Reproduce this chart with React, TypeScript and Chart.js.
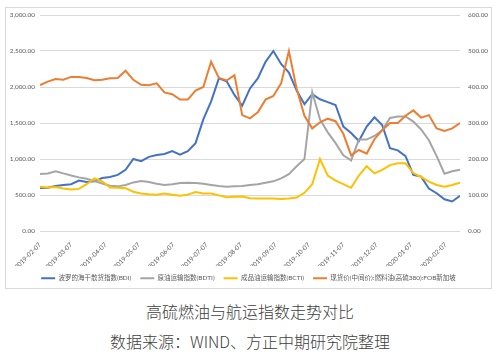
import React, { useEffect, useRef } from "react";
import { Chart, registerables } from "chart.js";

Chart.register(...registerables);

const dates = [
  "2019-02-07", "2019-02-14", "2019-02-21", "2019-02-28", "2019-03-07", "2019-03-14", "2019-03-21", "2019-03-28",
  "2019-04-04", "2019-04-11", "2019-04-18", "2019-04-25", "2019-05-02", "2019-05-09", "2019-05-16", "2019-05-23",
  "2019-05-30", "2019-06-06", "2019-06-13", "2019-06-20", "2019-06-27", "2019-07-04", "2019-07-11", "2019-07-18",
  "2019-07-25", "2019-08-01", "2019-08-08", "2019-08-15", "2019-08-22", "2019-08-29", "2019-09-05", "2019-09-12",
  "2019-09-19", "2019-09-26", "2019-10-03", "2019-10-10", "2019-10-17", "2019-10-24", "2019-10-31", "2019-11-07",
  "2019-11-14", "2019-11-21", "2019-11-28", "2019-12-05", "2019-12-12", "2019-12-19", "2019-12-26", "2020-01-02",
  "2020-01-09", "2020-01-16", "2020-01-23", "2020-01-30", "2020-02-06", "2020-02-13", "2020-02-20",
];

const tickDates = [
  "2019-02-07", "2019-03-07", "2019-04-07", "2019-05-07", "2019-06-07", "2019-07-07", "2019-08-07",
  "2019-09-07", "2019-10-07", "2019-11-07", "2019-12-07", "2020-01-07", "2020-02-07",
];

const bdi = [
  597, 600, 625, 640, 650, 700, 680, 690, 735, 750,
  780, 850, 1000, 970, 1030, 1055, 1070, 1110, 1060, 1110,
  1220, 1550, 1800, 2120, 2080, 1890, 1740, 1980, 2120, 2350,
  2500, 2320, 2200, 1950, 1760, 1900, 1830, 1790, 1750, 1450,
  1360, 1250, 1450, 1580, 1470, 1150, 1120, 1040, 780, 755,
  590, 525, 440, 410, 490,
];

const bdti = [
  790, 800, 830, 800, 770, 745, 725, 695, 660, 630,
  620, 640, 675, 695, 680, 655, 640, 650, 665, 670,
  665, 655, 640, 625, 615, 620, 625, 640, 650, 670,
  690, 730, 790, 900, 1000, 1930, 1550, 1370, 1220, 1050,
  980, 1270, 1270, 1320, 1400, 1570, 1590, 1590, 1520, 1410,
  1260, 1040, 795, 830, 850,
];

const bcti = [
  615, 605, 610, 590, 575, 585, 650, 730, 690, 605,
  600, 595, 545, 520, 510, 505, 520, 505, 490, 505,
  540, 520, 520, 495, 470, 475, 480, 455, 450, 450,
  450, 445, 450, 465, 530, 650, 1000, 770, 700, 650,
  600, 770, 900, 800, 850, 915, 940, 940, 805, 750,
  685, 640, 615, 640, 670,
];

const fuelOil = [
  405, 415, 422, 420, 428, 428, 425, 419, 420, 424,
  425, 445, 420, 406, 405, 410, 385, 380, 365, 365,
  390, 400, 470, 425, 418, 433, 322, 313, 330, 365,
  375, 410, 500, 395, 320, 285, 302, 312, 305, 270,
  210, 225, 215, 255, 280, 300, 300, 320, 335, 315,
  322, 285, 278, 285, 300,
];

const seriesNames = [
  "波罗的海干散货指数(BDI)",
  "原油运输指数(BDTI)",
  "成品油运输指数(BCTI)",
  "现货价(中间价):燃料油(高硫380):FOB新加坡",
];

const seriesColors = ["#4472C4", "#A5A5A5", "#FFC000", "#ED7D31"];

const titleText = "高硫燃油与航运指数走势对比";
const sourceText = "数据来源：WIND、方正中期研究院整理";

const dayOf = (s: string) => {
  const [y, m, d] = s.split("-").map(Number);
  return Math.round((Date.UTC(y, m - 1, d) - Date.UTC(2019, 1, 7)) / 86400000);
};

const fmt2 = (v: number) =>
  Number(v).toLocaleString("en-US", { minimumFractionDigits: 2, maximumFractionDigits: 2 });

const tickFont = { size: 6.4, family: 'Lato, "Noto Sans CJK SC", sans-serif' };
const legendFont = { size: 6.5, family: 'Lato, "Noto Sans CJK SC", sans-serif' };
const tickColor = "#595959";

export default function App() {
  const ref = useRef<HTMLCanvasElement | null>(null);

  useEffect(() => {
    if (!ref.current) return;
    const labelByDay: Record<number, string> = {};
    tickDates.forEach((d) => (labelByDay[dayOf(d)] = d));
    const mk = (vals: number[], idx: number, axis: string, order: number) => ({
      label: seriesNames[idx],
      data: dates.map((d, i) => ({ x: dayOf(d), y: vals[i] })),
      borderColor: seriesColors[idx],
      backgroundColor: seriesColors[idx],
      borderWidth: 2,
      pointRadius: 0,
      tension: 0,
      yAxisID: axis,
      order,
    });
    const chart = new Chart(ref.current, {
      type: "line",
      data: {
        datasets: [
          mk(bdi, 0, "y", 4),
          mk(bdti, 1, "y", 3),
          mk(bcti, 2, "y", 2),
          mk(fuelOil, 3, "yR", 1),
        ],
      },
      options: {
        animation: false,
        responsive: false,
        layout: { padding: { top: 7, bottom: 6.5, left: 0, right: 0 } },
        plugins: {
          legend: {
            position: "bottom",
            labels: {
              usePointStyle: true,
              pointStyle: "line",
              pointStyleWidth: 14,
              boxHeight: 7,
              padding: 9,
              color: tickColor,
              font: legendFont,
              sort: (a: any, b: any) => a.datasetIndex - b.datasetIndex,
            },
          },
          tooltip: { enabled: false },
        },
        scales: {
          x: {
            type: "linear",
            min: 0,
            max: dayOf(dates[dates.length - 1]),
            grid: { display: false },
            border: { display: false },
            afterBuildTicks: (s: any) => {
              s.ticks = tickDates.map((d) => ({ value: dayOf(d) }));
            },
            afterFit: (s: any) => {
              s.height = 35;
            },
            ticks: {
              autoSkip: false,
              minRotation: 45,
              maxRotation: 45,
              padding: 2,
              color: tickColor,
              font: tickFont,
              callback: (v: any) => labelByDay[v] ?? "",
            },
          },
          y: {
            type: "linear",
            axis: "y",
            position: "left",
            min: 0,
            max: 3000,
            grid: { color: "#D9D9D9", drawTicks: true, tickLength: 5, tickColor: "rgba(0,0,0,0)" },
            border: { display: false },
            ticks: { stepSize: 500, padding: 0, color: tickColor, font: tickFont, callback: (v: any) => fmt2(v) },
            afterFit: (s: any) => {
              s.width = 34;
            },
          },
          yR: {
            type: "linear",
            axis: "y",
            position: "right",
            min: 0,
            max: 600,
            grid: { drawOnChartArea: false, drawTicks: true, tickLength: 8, tickColor: "rgba(0,0,0,0)" },
            border: { display: false },
            ticks: { stepSize: 100, padding: 0, color: tickColor, font: tickFont, callback: (v: any) => fmt2(v) },
            afterFit: (s: any) => {
              s.width = 31;
            },
          },
        },
      } as any,
    });
    return () => chart.destroy();
  }, []);

  return (
    <div style={{ position: "absolute", left: 0, top: 0, width: 500, height: 363, background: "#fff" }}>
      <div
        style={{
          position: "absolute",
          left: 5,
          top: 7,
          width: 485,
          height: 280,
          border: "1px solid #D9D9D9",
        }}
      />
      <canvas
        ref={ref}
        width={485}
        height={290}
        style={{ position: "absolute", left: 6, top: 8, width: 485, height: 290 }}
      />
      <div
        style={{
          position: "absolute",
          left: 0,
          width: 500,
          top: 301,
          textAlign: "center",
          fontSize: 16,
          lineHeight: "20px",
          fontWeight: 300,
          color: "#404040",
          fontFamily: '"Noto Sans CJK SC", sans-serif',
        }}
      >
        {titleText}
      </div>
      <div
        style={{
          position: "absolute",
          left: 0,
          width: 500,
          top: 331,
          textAlign: "center",
          fontSize: 16,
          lineHeight: "20px",
          fontWeight: 300,
          color: "#404040",
          fontFamily: '"Noto Sans CJK SC", sans-serif',
        }}
      >
        {sourceText}
      </div>
    </div>
  );
}
